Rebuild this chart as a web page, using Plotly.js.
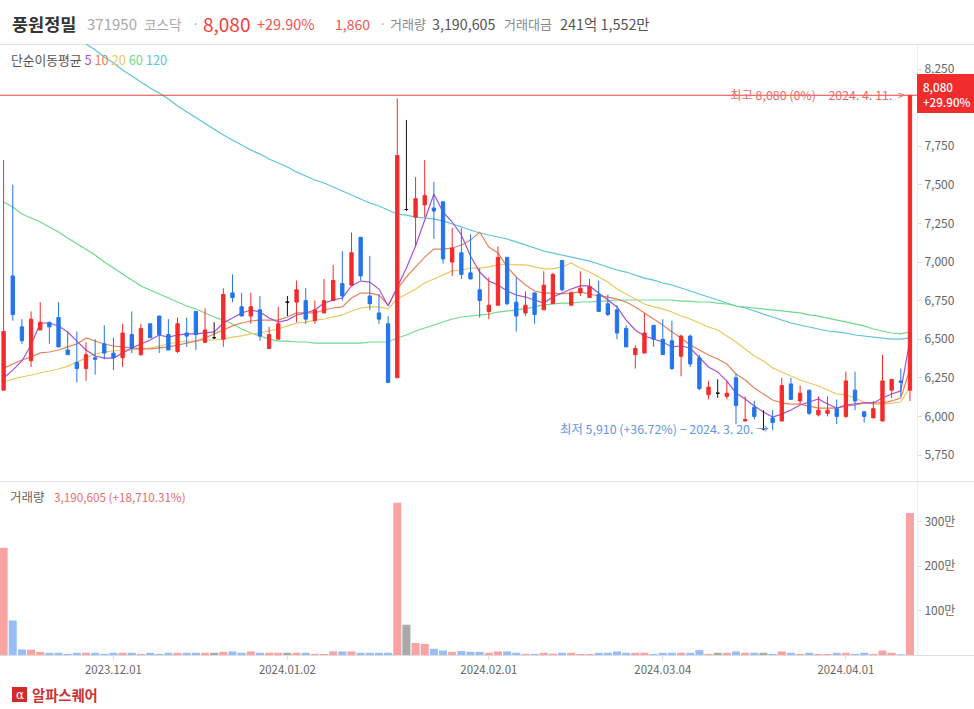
<!DOCTYPE html>
<html>
<head>
<meta charset="utf-8">
<script src="https://cdn.plot.ly/plotly-3.0.1.min.js"></script>
<style>html,body{margin:0;padding:0;background:#fff;overflow:hidden}</style>
</head>
<body>
<div id="chart" style="width:974px;height:709px"></div>
<script>
const dates = ["2023.11.15","2023.11.16","2023.11.17","2023.11.20","2023.11.21","2023.11.22","2023.11.23","2023.11.24","2023.11.27","2023.11.28","2023.11.29","2023.11.30",
"2023.12.01","2023.12.04","2023.12.05","2023.12.06","2023.12.07","2023.12.08","2023.12.11","2023.12.12","2023.12.13","2023.12.14","2023.12.15","2023.12.18","2023.12.19","2023.12.20","2023.12.21","2023.12.22","2023.12.26","2023.12.27","2023.12.28",
"2024.01.02","2024.01.03","2024.01.04","2024.01.05","2024.01.08","2024.01.09","2024.01.10","2024.01.11","2024.01.12","2024.01.15","2024.01.16","2024.01.17","2024.01.18","2024.01.19","2024.01.22","2024.01.23","2024.01.24","2024.01.25","2024.01.26","2024.01.29","2024.01.30","2024.01.31",
"2024.02.01","2024.02.02","2024.02.05","2024.02.06","2024.02.07","2024.02.08","2024.02.13","2024.02.14","2024.02.15","2024.02.16","2024.02.19","2024.02.20","2024.02.21","2024.02.22","2024.02.23","2024.02.26","2024.02.27","2024.02.28","2024.02.29",
"2024.03.04","2024.03.05","2024.03.06","2024.03.07","2024.03.08","2024.03.11","2024.03.12","2024.03.13","2024.03.14","2024.03.15","2024.03.18","2024.03.19","2024.03.20","2024.03.21","2024.03.22","2024.03.25","2024.03.26","2024.03.27","2024.03.28","2024.03.29",
"2024.04.01","2024.04.02","2024.04.03","2024.04.04","2024.04.05","2024.04.08","2024.04.09","2024.04.11"];

const opens = [6170,6910,6580,6360,6560,6610,6640,6430,6350,6310,6380,6470,6410,6380,6530,6400,6600,6650,6530,6420,6540,6680,6480,6510,6500,6800,6710,6650,6690,6440,6500,6740,6740,6750,6620,6670,6750,6860,6850,7160,6780,6670,6600,6250,7340,7290,7370,7350,7390,7000,7060,6930,6820,6680,6720,7030,6740,6670,6800,6690,6730,7010,6720,6800,6770,6790,6730,6690,6570,6400,6410,6590,6500,6490,6390,6520,6380,6140,6150,6130,6250,5970,6060,5920,5990,5970,6210,6100,6170,6010,6020,6050,6000,6170,6030,5990,5970,6170,6230,6170];
const highs = [7660,7500,6630,6680,6740,6610,6740,6550,6550,6480,6500,6590,6510,6600,6680,6600,6600,6650,6630,6640,6640,6680,6700,6610,6830,6920,6800,6800,6780,6580,6710,6780,6880,6830,6750,6890,6980,7070,7190,7160,7040,6790,6650,8060,7920,7550,7660,7520,7390,7220,7220,7180,6960,6900,7100,7030,6900,6810,6800,6940,6930,7010,6810,6940,6890,6880,6790,6720,6590,6460,6670,6590,6630,6620,6530,6530,6400,6230,6240,6230,6280,6130,6100,6040,6040,6250,6250,6200,6170,6130,6130,6110,6290,6290,6030,6100,6400,6240,6310,8080];
const lows = [6170,6620,6470,6320,6560,6470,6450,6400,6220,6230,6270,6370,6300,6320,6410,6390,6510,6410,6430,6410,6450,6430,6480,6500,6450,6740,6650,6600,6490,6440,6500,6650,6610,6600,6600,6670,6750,6750,6850,6880,6690,6600,6220,6250,7330,7100,7290,7150,6990,6910,6890,6890,6640,6630,6720,6720,6550,6650,6600,6690,6730,6810,6720,6780,6770,6680,6650,6500,6450,6310,6410,6450,6400,6300,6260,6320,6170,6110,6120,6110,5950,5970,5980,5910,5910,5970,6110,6080,6010,6000,6000,5950,5990,6040,5960,5990,5970,6120,6130,6100];
const closes = [6550,6660,6490,6630,6610,6580,6450,6400,6310,6400,6370,6410,6380,6540,6440,6570,6510,6530,6430,6600,6520,6530,6560,6510,6790,6770,6650,6710,6520,6530,6600,6740,6820,6630,6690,6750,6880,6780,7060,6910,6730,6630,6220,7690,7340,7410,7430,7330,7020,7090,6920,6890,6750,6720,7030,6730,6650,6720,6660,6850,6920,6820,6800,6830,6840,6680,6660,6540,6450,6440,6540,6500,6400,6310,6520,6340,6180,6190,6150,6150,6070,5980,6000,5920,5960,6200,6110,6150,6020,6040,6040,6000,6230,6100,6000,6050,6230,6240,6220,8080];
const volumes = [2410000,775000,125000,120000,70000,50000,50000,25000,50000,50000,50000,25000,50000,50000,50000,25000,50000,25000,50000,50000,50000,50000,50000,50000,70000,80000,50000,80000,50000,50000,50000,50000,50000,50000,25000,25000,80000,80000,80000,50000,50000,50000,50000,3420000,680000,270000,250000,140000,100000,70000,90000,70000,70000,50000,80000,80000,50000,25000,25000,50000,30000,50000,50000,25000,25000,50000,50000,80000,50000,50000,50000,25000,50000,50000,50000,50000,110000,25000,50000,50000,80000,50000,50000,50000,25000,80000,50000,25000,50000,25000,25000,50000,50000,25000,50000,25000,100000,50000,16962,3190605];

const ma5 = [6249,6300,6359,6462,6605,6605,6586,6547,6488,6430,6391,6378,6378,6411,6443,6469,6495,6527,6514,6527,6534,6534,6540,6547,6605,6637,6670,6689,6676,6637,6611,6624,6657,6670,6689,6734,6754,6767,6845,6877,6870,6825,6715,6838,6961,7104,7273,7440,7324,7259,7175,7039,6935,6877,6851,6812,6786,6773,6754,6734,6773,6799,6825,6845,6845,6799,6754,6709,6624,6560,6521,6501,6482,6450,6456,6443,6378,6320,6288,6229,6152,6113,6067,6028,5996,6015,6041,6074,6093,6113,6080,6054,6074,6080,6087,6087,6119,6145,6165,6495];
const ma10 = [6313,6339,6365,6385,6411,6417,6430,6450,6469,6508,6488,6469,6456,6450,6443,6437,6437,6443,6450,6462,6475,6488,6508,6534,6560,6586,6605,6618,6624,6624,6624,6644,6670,6670,6670,6689,6702,6709,6767,6799,6799,6786,6722,6825,6903,6968,7032,7084,7084,7091,7110,7142,7194,7097,7058,6968,6903,6851,6812,6799,6799,6793,6799,6806,6793,6780,6773,6760,6741,6709,6670,6631,6592,6547,6508,6462,6430,6398,6372,6339,6275,6236,6184,6145,6106,6087,6080,6080,6067,6054,6054,6054,6067,6074,6087,6087,6087,6100,6119,6307];
const ma20 = [6223,6242,6255,6268,6281,6294,6307,6326,6352,6378,6404,6417,6424,6430,6430,6437,6443,6456,6469,6482,6488,6488,6495,6495,6501,6514,6521,6534,6540,6553,6566,6586,6605,6611,6624,6631,6644,6657,6683,6702,6709,6709,6696,6760,6793,6825,6864,6890,6916,6942,6948,6961,6961,6968,6981,6987,6981,6981,6968,6955,6955,6968,6994,6961,6935,6903,6870,6825,6793,6760,6728,6709,6696,6676,6650,6631,6605,6579,6560,6521,6482,6437,6391,6359,6314,6288,6262,6236,6216,6197,6171,6145,6139,6119,6093,6080,6080,6087,6093,6190];
const ma60 = [7389,7356,7311,7285,7259,7227,7194,7155,7117,7084,7045,7000,6961,6922,6883,6845,6819,6793,6767,6741,6715,6696,6670,6644,6624,6598,6566,6540,6521,6501,6488,6488,6482,6482,6475,6475,6475,6475,6475,6475,6482,6482,6482,6508,6527,6553,6573,6592,6611,6631,6644,6650,6657,6663,6676,6683,6689,6696,6709,6722,6728,6734,6734,6741,6741,6747,6747,6754,6754,6754,6754,6754,6754,6754,6747,6747,6741,6741,6734,6728,6715,6709,6702,6696,6689,6683,6676,6670,6657,6650,6637,6624,6611,6598,6586,6566,6553,6540,6534,6547];
const ma120 = [null,null,null,null,null,null,null,null,null,8412,8373,8328,8289,8244,8205,8166,8127,8095,8056,8010,7972,7933,7894,7861,7823,7790,7758,7725,7699,7667,7641,7615,7583,7557,7531,7512,7486,7460,7434,7408,7382,7363,7337,7311,7304,7291,7285,7278,7266,7246,7227,7207,7188,7175,7162,7149,7130,7110,7091,7071,7058,7045,7032,7019,7006,6987,6968,6948,6935,6916,6896,6883,6864,6851,6832,6812,6793,6773,6754,6734,6715,6702,6683,6663,6644,6624,6605,6592,6579,6566,6553,6547,6540,6527,6521,6514,6508,6501,6501,6508];

const tickDates = ["2023.12.01","2024.01.02","2024.02.01","2024.03.04","2024.04.01"];
const priceTicks = [5750,6000,6250,6500,6750,7000,7250,7500,7750,8250];
const volTicks = [1000000,2000000,3000000];
const volTickLabels = ["100만","200만","300만"];
const maPeriods = ["5","10","20","60","120"];
const maColors = ["#a94fdc","#e8825a","#ecc65f","#6fd98d","#5cc3dc"];

const RED="#f52a2a", BLUE="#2474ea", BLACK="#111111";
const W=974, H=709, FONT='"Noto Sans CJK KR","Noto Sans",sans-serif';
const fx=p=>p/W, fy=p=>1-p/H;

const idx = dates.map((_,i)=>i);
function candle(filter,color){
  const s = idx.filter(filter);
  return {type:"candlestick",x:s.map(i=>dates[i]),open:s.map(i=>opens[i]),high:s.map(i=>highs[i]),low:s.map(i=>lows[i]),close:s.map(i=>closes[i]),
    xaxis:"x",yaxis:"y3",whiskerwidth:0,showlegend:false,hoverinfo:"skip",
    increasing:{line:{color:color,width:1},fillcolor:color},
    decreasing:{line:{color:color,width:1},fillcolor:color}};
}
const mas=[ma120,ma60,ma20,ma10,ma5];
const maCols=[maColors[4],maColors[3],maColors[2],maColors[1],maColors[0]];
const data=[];
mas.forEach((m,k)=>data.push({type:"scatter",mode:"lines",x:dates,y:m,xaxis:"x",yaxis:"y",line:{color:maCols[k],width:1.2},showlegend:false,hoverinfo:"skip",connectgaps:false}));
data.push(candle(i=>closes[i]>opens[i],RED));
data.push(candle(i=>closes[i]<opens[i],BLUE));
data.push(candle(i=>closes[i]===opens[i],BLACK));
data.push({type:"bar",x:dates,y:volumes,xaxis:"x",yaxis:"y2",showlegend:false,hoverinfo:"skip",
  marker:{color:idx.map(i=>closes[i]>opens[i]?"#f9a3a3":closes[i]<opens[i]?"#97bff6":"#a9a9a9"),line:{width:0}}});

function ann(text,px,py,size,color,extra){
  return Object.assign({xref:"paper",yref:"paper",x:fx(px),y:fy(py),text:text,showarrow:false,xanchor:"left",yanchor:"middle",
    font:{family:FONT,size:size,color:color},borderpad:0,borderwidth:0},extra||{});
}
const legendText = "단순이동평균 " + maPeriods.map((p,i)=>`<span style="color:${maColors[i]}">${p}</span>`).join(" ");
const annotations=[
  ann("<b>풍원정밀</b>",12,24,17.5,"#333333"),
  ann("371950",87,24,15,"#a8a8a8"),
  ann("코스닥",144,24,13.6,"#a8a8a8"),
  ann("·",192,24,13,"#a8a8a8"),
  ann("8,080",203,24,19,"#f23c3c"),
  ann("+29.90%",257,24,14.5,"#f25555"),
  ann("1,860",335,24,14,"#f25555"),
  ann("·",379,24,13,"#a8a8a8"),
  ann("거래량",390,24,13,"#888888"),
  ann("3,190,605",432,24,14.3,"#555555"),
  ann("거래대금",504,24,13,"#888888"),
  ann("241억 1,552만",560,24,14.4,"#555555"),
  ann(legendText,11,60,12.8,"#555555"),
  ann("최고 8,080 (0%) − 2024. 4. 11.  &gt;",905,94.5,12.4,"#ea6a6a",{xanchor:"right"}),
  ann("최저 5,910 (+36.72%) − 2024. 3. 20. →",560,429,12.4,"#5f97e8"),
  ann("8,080<br>+29.90%",923,94,11.6,"#ffffff",{align:"left",font:{family:FONT,size:11.6,color:"#ffffff",weight:500}}),
  ann("거래량",10,496,12.5,"#666666"),
  ann("3,190,605 (+18,710.31%)",54,496,11.7,"#ee6a6a"),
  ann("α",19.5,695,14,"#ffffff",{xanchor:"center",font:{family:"DejaVu Serif",size:12,color:"#ffffff"}}),
  ann("<b>알파스퀘어</b>",32,694,14.3,"#cc3333")
];
const px=(o)=>Object.assign({xref:"paper",yref:"paper",line:{color:"#e4e4e4",width:1},layer:"below"},o);
const shapes=[
  px({type:"line",x0:0,x1:1,y0:fy(44.5),y1:fy(44.5)}),
  px({type:"line",x0:0,x1:1,y0:fy(481.5),y1:fy(481.5)}),
  px({type:"line",x0:0,x1:1,y0:fy(655.5),y1:fy(655.5),line:{color:"#dddddd",width:1}}),
  px({type:"line",x0:fx(917.5),x1:fx(917.5),y0:fy(44.5),y1:fy(655.5),line:{color:"#eeeeee",width:1}}),
  {type:"line",xref:"paper",yref:"y",x0:0,x1:fx(917),y0:closes[99],y1:closes[99],line:{color:"#e84444",width:1},layer:"above"},
  px({type:"rect",x0:fx(917),x1:1,y0:fy(74),y1:fy(113),fillcolor:"#f02c2c",line:{width:0},layer:"above"}),
  px({type:"rect",x0:fx(12),x1:fx(27),y0:fy(687),y1:fy(702),fillcolor:"#d62a2a",line:{width:0},layer:"above"})
];
const priceRange=[5581.6,8412];
const tickFont={family:FONT,size:12,color:"#666666"};
const layout={
  width:W,height:H,margin:{l:0,r:0,t:0,b:0},paper_bgcolor:"#fff",plot_bgcolor:"#fff",
  showlegend:false,boxmode:"overlay",boxgap:0.48,bargap:0.12,hovermode:false,font:{family:FONT},
  xaxis:{domain:[0,917/W],anchor:"y2",type:"category",categoryorder:"array",categoryarray:dates,range:[-0.393,99.77],
    tickmode:"array",tickvals:tickDates,ticktext:tickDates,ticks:"outside",ticklen:4,tickcolor:"#dddddd",tickangle:0,
    tickfont:{family:FONT,size:11.4,color:"#666666"},
    showgrid:false,zeroline:false,showline:false,rangeslider:{visible:false},automargin:false},
  yaxis:{domain:[1-481/H,1-44/H],range:priceRange,anchor:"x",side:"right",tickmode:"array",tickvals:priceTicks,tickformat:",d",
    ticks:"outside",ticklen:4,tickcolor:"#dddddd",tickfont:tickFont,showgrid:false,zeroline:false,showline:false,automargin:false},
  yaxis3:{overlaying:"y",range:priceRange,anchor:"x",side:"right",visible:false,showgrid:false,zeroline:false},
  yaxis2:{domain:[1-655/H,1-481/H],range:[0,3910000],anchor:"x",side:"right",tickmode:"array",tickvals:volTicks,ticktext:volTickLabels,
    ticks:"outside",ticklen:4,tickcolor:"#dddddd",tickfont:tickFont,showgrid:false,zeroline:false,showline:false,automargin:false},
  annotations:annotations,shapes:shapes
};
Plotly.newPlot("chart",data,layout,{displayModeBar:false,staticPlot:true});
</script>
</body>
</html>
